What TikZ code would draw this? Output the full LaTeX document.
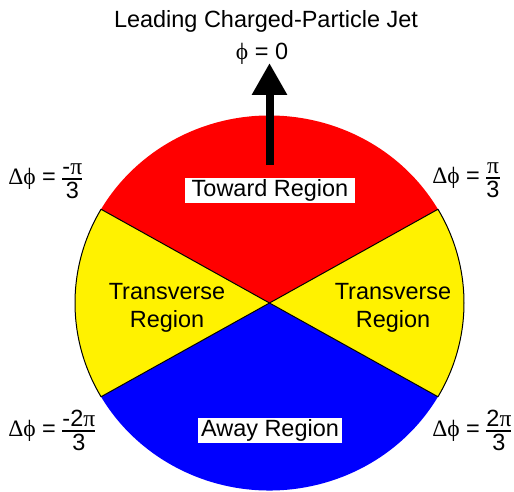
\documentclass[tikz,border=0pt]{standalone}
\usepackage{fontspec}
\setmainfont{Liberation Sans}
\newfontfamily\grk{Liberation Serif}
\usetikzlibrary{arrows.meta}
\newcommand\dfr[2]{$\vcenter{\offinterlineskip\ialign{\hfil##\hfil\cr\vphantom{0}#1\cr\noalign{\kern3pt\hrule height1.3pt\kern1.6pt}\vphantom{0}#2\cr}}$}
\tikzset{
  txt/.style={font=\fontsize{17.6}{21}\selectfont, inner sep=0pt},
  regionbox/.style={txt, fill=white, minimum height=18.75pt},
  sideline/.style={draw=black, line width=0.75pt, line join=round},
  ell/.style={x radius=194.5, y radius=187.5},
  jetarrow/.style={line width=6pt, -{Triangle[width=25pt,length=24pt]}}
}
\begin{document}
\begin{tikzpicture}[x=0.75pt,y=-0.75pt]
\useasboundingbox (0,0) rectangle (514,492);
\coordinate (c) at (269.5,303);
% sectors
\fill[red] (c) -- ++(-30:194.5 and 187.5) arc[start angle=-30, end angle=-150, ell] -- cycle;
\fill[blue] (c) -- ++(30:194.5 and 187.5) arc[start angle=30, end angle=150, ell] -- cycle;
\filldraw[fill=yellow, sideline] (c) -- ++(150:194.5 and 187.5) arc[start angle=150, end angle=210, ell] -- cycle;
\filldraw[fill=yellow, sideline] (c) -- ++(-30:194.5 and 187.5) arc[start angle=-30, end angle=30, ell] -- cycle;
% title and jet arrow
\node[txt, anchor=base] (title) at (266,27.5) {Leading Charged-Particle Jet};
\node[txt, anchor=base] (phi0) at (262,60) {{\grk ϕ} = 0};
\coordinate (jetbase) at (269.5,165);
\coordinate (jettip) at (269.5,63);
\draw[jetarrow] (jetbase) -- (jettip);
% region labels
\node[regionbox, minimum width=127.5pt] (toward) at (270,190.5) {Toward Region};
\node[regionbox, minimum width=108pt] (away) at (270,430.5) {Away Region};
\node[txt, align=center] (transL) at (167,308) {Transverse\\Region};
\node[txt, align=center] (transR) at (393,308) {Transverse\\Region};
% delta phi labels
\node[txt, anchor=base west] (dTL) at (8,184) {{\grk Δϕ} = \dfr{-{\grk π}}{3}};
\node[txt, anchor=base west] (dTR) at (432,183) {{\grk Δϕ} = \dfr{{\grk π}}{3}};
\node[txt, anchor=base west] (dBL) at (8,436) {{\grk Δϕ} = \dfr{-2{\grk π}}{3}};
\node[txt, anchor=base west] (dBR) at (432,436) {{\grk Δϕ} = \dfr{2{\grk π}}{3}};
\end{tikzpicture}
\end{document}
